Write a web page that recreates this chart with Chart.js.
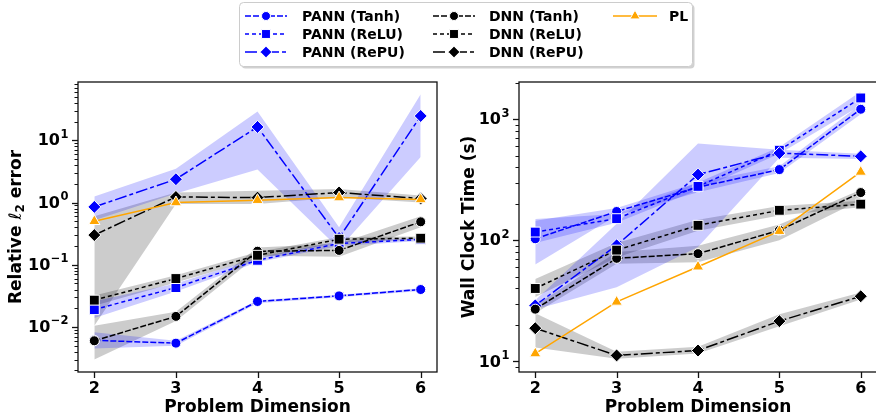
<!DOCTYPE html>
<html lang="en">
<head>
<meta charset="UTF-8">
<title>PANN vs DNN vs PL</title>
<script src="https://cdn.jsdelivr.net/npm/chart.js"></script>
<style>
  body { margin: 0; background: #fff; width: 876px; height: 419px; overflow: hidden; position: relative; }
  canvas { position: absolute; top: 0; }
  #errChart { left: 0; }
  #timeChart { left: 440px; }
  #legend { left: 0; }
</style>
</head>
<body>
<canvas id="errChart" width="445" height="419"></canvas>
<canvas id="timeChart" width="445" height="419"></canvas>
<canvas id="legend" width="876" height="75"></canvas>
<script>
// ---- data ----
const dims = [2, 3, 4, 5, 6];

// relative l2 error (left)
const pannTanhErr   = [0.0061, 0.0055, 0.0257, 0.0316, 0.040];
const pannTanhErrLo = [0.0045, 0.0050, 0.024, 0.030, 0.038];
const pannTanhErrHi = [0.0082, 0.0060, 0.027, 0.033, 0.042];
const pannReluErr   = [0.019, 0.043, 0.118, 0.22, 0.255];
const pannReluErrLo = [0.014, 0.037, 0.11, 0.20, 0.24];
const pannReluErrHi = [0.026, 0.050, 0.13, 0.24, 0.27];
const pannRepuErr   = [0.85, 2.37, 16.4, 0.27, 24.6];
const pannRepuErrLo = [0.52, 1.4, 3.4, 0.18, 5.4];
const pannRepuErrHi = [1.25, 3.5, 29, 0.40, 55];
const dnnTanhErr    = [0.006, 0.0148, 0.165, 0.17, 0.49];
const dnnTanhErrLo  = [0.003, 0.0125, 0.14, 0.135, 0.40];
const dnnTanhErrHi  = [0.0105, 0.0175, 0.19, 0.22, 0.60];
const dnnReluErr    = [0.027, 0.060, 0.142, 0.257, 0.267];
const dnnReluErrLo  = [0.022, 0.052, 0.125, 0.23, 0.25];
const dnnReluErrHi  = [0.032, 0.068, 0.16, 0.28, 0.285];
const dnnRepuErr    = [0.30, 1.23, 1.20, 1.45, 1.16];
const dnnRepuErrLo  = [0.0105, 0.95, 0.95, 1.2, 1.0];
const dnnRepuErrHi  = [0.60, 1.45, 1.55, 1.65, 1.3];
const plErr         = [0.50, 1.0, 1.09, 1.2, 1.12];

// wall clock time in seconds (right)
const pannTanhTime   = [103, 173, 275, 384, 1210];
const pannTanhTimeLo = [63, 160, 250, 360, 1100];
const pannTanhTimeHi = [145, 185, 300, 410, 1330];
const pannReluTime   = [117, 151, 279, 555, 1500];
const pannReluTimeLo = [95, 140, 260, 520, 1300];
const pannReluTimeHi = [150, 165, 300, 590, 1700];
const pannRepuTime   = [29, 91, 349, 525, 494];
const pannRepuTimeLo = [27, 41, 88, 480, 470];
const pannRepuTimeHi = [32, 137, 630, 560, 520];
const dnnTanhTime    = [27, 71, 77.6, 121, 248];
const dnnTanhTimeLo  = [25, 64, 66, 100, 215];
const dnnTanhTimeHi  = [29, 80, 90, 135, 262];
const dnnReluTime    = [40, 83, 133, 177, 199];
const dnnReluTimeLo  = [34, 72, 120, 160, 188];
const dnnReluTimeHi  = [48, 95, 148, 192, 212];
const dnnRepuTime    = [18.8, 11.2, 12.3, 21.5, 34.5];
const dnnRepuTimeLo  = [13, 10.5, 11.6, 19.5, 32.5];
const dnnRepuTimeHi  = [25, 12, 13.2, 24.5, 37];
const plTime         = [11.6, 31, 60.5, 119, 367];

// ticks (base 10, exponent shown as superscript)
const xTicks = [2, 3, 4, 5, 6];
const errTicks = [0.01, 0.1, 1, 10];
const errTickExp = ['−2', '−1', '0', '1'];
const timeTicks = [10, 100, 1000];
const timeTickExp = ['1', '2', '3'];

// ---- styles ----
const BLUE = '#0000ff', BLACK = '#000000', ORANGE = '#ffa500';
const BLUE_BAND = 'rgba(0,0,255,0.2)', GREY_BAND = 'rgba(0,0,0,0.2)';
const FONT = '"DejaVu Sans", sans-serif';
const act = {
  Tanh: { dash: [6, 2], marker: 'circle', r: 5 },
  ReLU: { dash: [4, 3], marker: 'rect', r: 7 },
  RePU: { dash: [12, 3, 4, 3], marker: 'rectRot', r: 6.5 },
  PL:   { dash: [], marker: 'triangle', r: 6.5 }
};

Chart.defaults.font.family = FONT;
Chart.defaults.font.weight = 'bold';
Chart.defaults.color = '#000';

function pts(vals) {
  return dims.map((x, i) => ({ x: x, y: vals[i] }));
}

function line(label, vals, color, a, order) {
  const s = act[a];
  return {
    label: label, data: pts(vals), order: order,
    borderColor: color, borderWidth: 1.5, borderDash: s.dash,
    pointStyle: s.marker, pointRadius: s.r, pointHoverRadius: s.r,
    pointBackgroundColor: color, pointBorderColor: '#fff', pointBorderWidth: 1,
    fill: false, tension: 0
  };
}

function band(lo, hi, color) {
  const base = { borderColor: 'rgba(0,0,0,0)', borderWidth: 0, pointRadius: 0, order: 10, tension: 0 };
  return [
    Object.assign({ data: pts(lo), fill: false }, base),
    Object.assign({ data: pts(hi), fill: '-1', backgroundColor: color }, base)
  ];
}

// frame, ticks and 10^n labels drawn like matplotlib
const axisDecor = {
  id: 'axisDecor',
  afterDraw(chart, args, opts) {
    const { ctx, chartArea: a, scales: { x, y } } = chart;
    ctx.save();
    ctx.strokeStyle = '#111';
    const lo = Math.floor(Math.log10(y.min)), hi = Math.ceil(Math.log10(y.max));
    for (let d = lo; d <= hi; d++) {
      for (let m = 1; m < 10; m++) {
        const v = m * Math.pow(10, d);
        if (v < y.min || v > y.max) continue;
        const py = Math.round(y.getPixelForValue(v)) + 0.5;
        const len = m === 1 ? 6 : 3.5;
        ctx.lineWidth = m === 1 ? 1.3 : 1;
        ctx.beginPath();
        ctx.moveTo(a.left - len, py);
        ctx.lineTo(a.left, py);
        ctx.stroke();
      }
    }
    ctx.lineWidth = 1.3;
    xTicks.forEach(v => {
      const px = Math.round(x.getPixelForValue(v)) + 0.5;
      ctx.beginPath();
      ctx.moveTo(px, a.bottom);
      ctx.lineTo(px, a.bottom + 6);
      ctx.stroke();
    });
    ctx.strokeRect(a.left, a.top, a.right - a.left, a.bottom - a.top);

    // y tick labels: "10" with raised exponent
    ctx.fillStyle = '#000';
    ctx.textBaseline = 'middle';
    ctx.textAlign = 'left';
    opts.ticks.forEach((v, i) => {
      const py = y.getPixelForValue(v);
      ctx.font = 'bold 11.5px ' + FONT;
      const ew = ctx.measureText(opts.exps[i]).width;
      ctx.font = 'bold 16px ' + FONT;
      const bw = ctx.measureText('10').width;
      const x0 = a.left - 10 - ew - bw;
      ctx.fillText('10', x0, py + 1);
      ctx.font = 'bold 11.5px ' + FONT;
      ctx.fillText(opts.exps[i], x0 + bw + 0.5, py - 5.5);
    });

    // y title, with italic ell and subscript when asked
    if (opts.title) {
      const cy = (a.top + a.bottom) / 2;
      ctx.translate(opts.titleX, cy);
      ctx.rotate(-Math.PI / 2);
      const parts = opts.title;
      let total = 0;
      parts.forEach(p => { ctx.font = p.font; total += ctx.measureText(p.t).width; });
      let px = -total / 2;
      ctx.textAlign = 'left';
      ctx.textBaseline = 'alphabetic';
      parts.forEach(p => {
        ctx.font = p.font;
        ctx.fillText(p.t, px, 6 + (p.dy || 0));
        px += ctx.measureText(p.t).width;
      });
    }
    ctx.restore();
  }
};

function makeChart(id, datasets, yMin, yMax, yTicks, yExps, yTitleParts, titleX, yWidth, padRight) {
  return new Chart(document.getElementById(id), {
    type: 'line',
    data: { datasets: datasets },
    options: {
      responsive: false,
      animation: false,
      layout: { padding: { top: 82, right: padRight, left: 0, bottom: 0 } },
      plugins: {
        legend: { display: false }, tooltip: { enabled: false },
        axisDecor: { ticks: yTicks, exps: yExps, title: yTitleParts, titleX: titleX }
      },
      scales: {
        x: {
          type: 'linear', min: 1.8, max: 6.2,
          afterBuildTicks: s => { s.ticks = xTicks.map(v => ({ value: v })); },
          afterFit: s => { s.height = 47; },
          grid: { drawOnChartArea: false, drawTicks: true, tickLength: 6, tickColor: 'rgba(0,0,0,0)' },
          border: { display: false },
          ticks: { font: { size: 16, weight: 'bold' }, padding: 1, autoSkip: false, maxRotation: 0,
                   callback: v => String(v) },
          title: { display: true, text: 'Problem Dimension', font: { size: 17, weight: 'bold' },
                   padding: { top: 0, bottom: 1 } }
        },
        y: {
          type: 'logarithmic', min: yMin, max: yMax, bounds: 'data',
          afterBuildTicks: s => { s.ticks = yTicks.map(v => ({ value: v })); },
          afterFit: s => { s.width = yWidth; },
          grid: { display: false },
          border: { display: false },
          ticks: { display: false },
          title: { display: false }
        }
      }
    },
    plugins: [axisDecor]
  });
}

const errSets = [
  line('PL', plErr, ORANGE, 'PL', 0),
  line('DNN (RePU)', dnnRepuErr, BLACK, 'RePU', 1),
  line('DNN (ReLU)', dnnReluErr, BLACK, 'ReLU', 2),
  line('DNN (Tanh)', dnnTanhErr, BLACK, 'Tanh', 3),
  line('PANN (RePU)', pannRepuErr, BLUE, 'RePU', 4),
  line('PANN (ReLU)', pannReluErr, BLUE, 'ReLU', 5),
  line('PANN (Tanh)', pannTanhErr, BLUE, 'Tanh', 6),
  ...band(pannTanhErrLo, pannTanhErrHi, BLUE_BAND),
  ...band(pannReluErrLo, pannReluErrHi, BLUE_BAND),
  ...band(pannRepuErrLo, pannRepuErrHi, BLUE_BAND),
  ...band(dnnTanhErrLo, dnnTanhErrHi, GREY_BAND),
  ...band(dnnReluErrLo, dnnReluErrHi, GREY_BAND),
  ...band(dnnRepuErrLo, dnnRepuErrHi, GREY_BAND)
];

const timeSets = [
  line('PL', plTime, ORANGE, 'PL', 0),
  line('DNN (RePU)', dnnRepuTime, BLACK, 'RePU', 1),
  line('DNN (ReLU)', dnnReluTime, BLACK, 'ReLU', 2),
  line('DNN (Tanh)', dnnTanhTime, BLACK, 'Tanh', 3),
  line('PANN (RePU)', pannRepuTime, BLUE, 'RePU', 4),
  line('PANN (ReLU)', pannReluTime, BLUE, 'ReLU', 5),
  line('PANN (Tanh)', pannTanhTime, BLUE, 'Tanh', 6),
  ...band(pannTanhTimeLo, pannTanhTimeHi, BLUE_BAND),
  ...band(pannReluTimeLo, pannReluTimeHi, BLUE_BAND),
  ...band(pannRepuTimeLo, pannRepuTimeHi, BLUE_BAND),
  ...band(dnnTanhTimeLo, dnnTanhTimeHi, GREY_BAND),
  ...band(dnnReluTimeLo, dnnReluTimeHi, GREY_BAND),
  ...band(dnnRepuTimeLo, dnnRepuTimeHi, GREY_BAND)
];

const B17 = 'bold 17px ' + FONT;
const errTitle = [
  { t: 'Relative ', font: B17 },
  { t: 'ℓ', font: 'italic 17px ' + FONT },
  { t: '2', font: 'bold 12px ' + FONT, dy: 3 },
  { t: ' error', font: B17 }
];
const timeTitle = [{ t: 'Wall Clock Time (s)', font: B17 }];

makeChart('errChart', errSets, 0.00189, 86.5, errTicks, errTickExp, errTitle, 15, 78, 4);
makeChart('timeChart', timeSets, 8.17, 2032, timeTicks, timeTickExp, timeTitle, 27.7, 79, 3);

// ---- shared legend ----
const legendCols = [
  { x0: 245, x1: 287, tx: 302, items: [['PANN (Tanh)', BLUE, 'Tanh'], ['PANN (ReLU)', BLUE, 'ReLU'], ['PANN (RePU)', BLUE, 'RePU']] },
  { x0: 433, x1: 475, tx: 489, items: [['DNN (Tanh)', BLACK, 'Tanh'], ['DNN (ReLU)', BLACK, 'ReLU'], ['DNN (RePU)', BLACK, 'RePU']] },
  { x0: 613, x1: 657, tx: 669, items: [['PL', ORANGE, 'PL']] }
];

function marker(ctx, kind, x, y, r, color) {
  ctx.beginPath();
  if (kind === 'circle') {
    ctx.arc(x, y, r, 0, Math.PI * 2);
  } else if (kind === 'rect') {
    const s = r * Math.SQRT1_2;
    ctx.rect(x - s, y - s, 2 * s, 2 * s);
  } else if (kind === 'rectRot') {
    ctx.moveTo(x, y - r); ctx.lineTo(x + r, y); ctx.lineTo(x, y + r); ctx.lineTo(x - r, y); ctx.closePath();
  } else {
    ctx.moveTo(x, y - r);
    ctx.lineTo(x + r * Math.sin(2 * Math.PI / 3), y - r * Math.cos(2 * Math.PI / 3));
    ctx.lineTo(x + r * Math.sin(4 * Math.PI / 3), y - r * Math.cos(4 * Math.PI / 3));
    ctx.closePath();
  }
  ctx.fillStyle = color;
  ctx.fill();
  ctx.strokeStyle = '#fff';
  ctx.lineWidth = 1;
  ctx.setLineDash([]);
  ctx.stroke();
}

(function drawLegend() {
  const ctx = document.getElementById('legend').getContext('2d');
  // shadow + frame
  ctx.fillStyle = 'rgba(0,0,0,0.18)';
  ctx.beginPath(); ctx.roundRect(241.5, 4.5, 453, 64, 4); ctx.fill();
  ctx.fillStyle = '#fff';
  ctx.strokeStyle = '#cccccc';
  ctx.lineWidth = 1;
  ctx.beginPath(); ctx.roundRect(239.5, 2.5, 453, 64, 4); ctx.fill(); ctx.stroke();

  ctx.font = 'bold 14px ' + FONT;
  ctx.textBaseline = 'middle';
  legendCols.forEach(col => {
    col.items.forEach((it, row) => {
      const y = 16 + row * 18;
      const s = act[it[2]];
      ctx.strokeStyle = it[1];
      ctx.lineWidth = 1.5;
      ctx.setLineDash(s.dash);
      ctx.beginPath(); ctx.moveTo(col.x0, y); ctx.lineTo(col.x1, y); ctx.stroke();
      marker(ctx, s.marker, (col.x0 + col.x1) / 2, y, s.r * 0.9, it[1]);
      ctx.fillStyle = '#000';
      ctx.fillText(it[0], col.tx, y + 1);
    });
  });
})();
</script>
</body>
</html>
